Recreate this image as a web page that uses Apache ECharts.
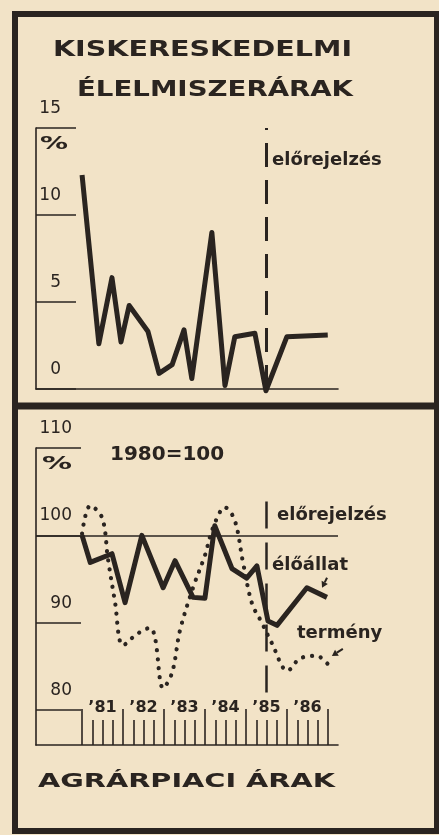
<!DOCTYPE html>
<html>
<head>
<meta charset="utf-8">
<script src="https://cdn.jsdelivr.net/npm/echarts@6/dist/echarts.min.js"></script>
<style>
  html, body { margin: 0; padding: 0; background: #f2e3c7; }
  #chart { width: 439px; height: 835px; }
</style>
</head>
<body>
<div id="chart"></div>
<script>
// kiskereskedelmi élelmiszerárak, % (x: év)
const retailYears = [1981.0, 1981.41, 1981.73, 1981.95, 1982.15, 1982.61, 1982.88, 1983.2, 1983.49,
  1983.68, 1984.17, 1984.49, 1984.73, 1985.22, 1985.49, 1986.0, 1987.0];
const retailValues = [12.3, 2.6, 6.4, 2.7, 4.8, 3.3, 0.9, 1.4, 3.4, 0.6, 9.0, 0.2, 3.0, 3.2, -0.1, 3.0, 3.1];

// agrárpiaci árak, 1980 = 100
const livestockYears = [1981.0, 1981.2, 1981.73, 1982.05, 1982.46, 1982.98, 1983.27, 1983.71, 1984.0,
  1984.24, 1984.66, 1985.02, 1985.27, 1985.54, 1985.76, 1986.49, 1986.98];
const livestockValues = [100, 96.9, 97.9, 92.3, 100, 94, 97.1, 92.9, 92.8, 101.1, 96.2, 95.1, 96.5, 90.2, 89.7, 94, 92.9];

const cropYears = [1981.0, 1981.2, 1981.49, 1981.63, 1981.8, 1982.0, 1982.34, 1982.66, 1982.78, 1982.98,
  1983.2, 1983.39, 1983.71, 1984.0, 1984.2, 1984.49, 1984.73, 1984.93, 1985.15, 1985.39, 1985.63,
  1986.02, 1986.32, 1986.73, 1987.03];
const cropValues = [100.2, 103.4, 102.0, 97.4, 92.5, 87.4, 88.7, 89.4, 88.3, 82.5, 84.3, 89.1, 94.0,
  97.7, 100.9, 103.2, 101.7, 96.9, 92.2, 90.0, 87.7, 84.5, 85.9, 86.2, 85.1];

const forecastStart = 1985.5;
const agrarTicks = [80, 90, 100, 110];
const yearLabels = ["’81", "’82", "’83", "’84", "’85", "’86"];
const yearLabelPos = [1981.5, 1982.5, 1983.5, 1984.5, 1985.5, 1986.5];

const ink = "#2a2420";
const paper = "#f2e3c7";

function zip(xs, ys) {
  return xs.map((x, i) => [x, ys[i]]);
}

// szélesre húzott címfelirat (a nyomtatott betű jóval szélesebb)
const measureCtx = document.createElement("canvas").getContext("2d");
function wideText(text, x, y, size, width) {
  const font = 'bold ' + size + 'px "DejaVu Sans"';
  measureCtx.font = font;
  const w = measureCtx.measureText(text).width;
  return {
    type: "text", x: x, y: y, scaleX: width / w,
    style: { text: text, font: font, fill: ink, verticalAlign: "middle" },
  };
}
function note(text, x, y, size) {
  return {
    type: "text", x: x, y: y,
    style: { text: text, font: 'bold ' + size + 'px "DejaVu Sans"', fill: ink, verticalAlign: "middle" },
  };
}
// kis nyíl a felirattól a görbe vége felé (dx, dy: a nyíl farka a hegyhez képest)
function arrow(id, head, dx, dy) {
  const len = Math.sqrt(dx * dx + dy * dy);
  const ux = -dx / len, uy = -dy / len; // irány a hegy felé
  const px = -uy, py = ux;
  const s = 6;
  const base = [head[0] - ux * s, head[1] - uy * s];
  return [
    {
      id: id + "-shaft", type: "line",
      shape: { x1: head[0] + dx, y1: head[1] + dy, x2: base[0], y2: base[1] },
      style: { stroke: ink, lineWidth: 2 },
    },
    {
      id: id + "-head", type: "polygon",
      shape: { points: [head, [base[0] + px * 3.5, base[1] + py * 3.5], [base[0] - px * 3.5, base[1] - py * 3.5]] },
      style: { fill: ink },
    },
  ];
}

const myChart = echarts.init(document.getElementById("chart"));

const hiddenX = {
  type: "value",
  min: 1979.875,
  max: 1987.25,
  axisLine: { show: true, lineStyle: { color: ink, width: 1.6 } },
  axisTick: { show: false },
  axisLabel: { show: false },
  splitLine: { show: false },
};

let option = {
  backgroundColor: paper,
  animation: false,
  grid: [
    { left: 36, right: 101, top: 128, bottom: 446 }, // felső ábra
    { left: 36, right: 101, top: 448, bottom: 90 },  // alsó ábra
    { left: 82, right: 111, top: 709, bottom: 90 },  // évek sávja
  ],
  xAxis: [
    Object.assign({ gridIndex: 0 }, hiddenX),
    Object.assign({ gridIndex: 1 }, hiddenX),
    {
      gridIndex: 2,
      type: "value",
      min: 1981,
      max: 1987,
      interval: 1,
      axisLine: { show: false },
      axisTick: { show: true, inside: true, length: 36, lineStyle: { color: ink, width: 1.6 } },
      minorTick: { show: true, splitNumber: 4, length: 25, lineStyle: { color: ink, width: 1.6 } },
      axisLabel: {
        inside: true,
        margin: 29,
        customValues: yearLabelPos,
        formatter: (v) => yearLabels[yearLabelPos.indexOf(v)],
        color: ink,
        fontFamily: "DejaVu Sans",
        fontWeight: "bold",
        fontSize: 16,
      },
      splitLine: { show: false },
    },
  ],
  yAxis: [
    {
      gridIndex: 0,
      type: "value",
      min: 0,
      max: 15,
      interval: 5,
      axisLine: { show: true, lineStyle: { color: ink, width: 1.6 } },
      axisTick: { show: true, inside: true, length: 40, lineStyle: { color: ink, width: 1.6 } },
      axisLabel: {
        inside: true, margin: 25, align: "right", verticalAlign: "bottom", padding: [0, 0, 11, 0],
        color: ink, fontFamily: "DejaVu Sans", fontSize: 17,
      },
      splitLine: { show: false },
    },
    {
      gridIndex: 1,
      type: "value",
      min: 76,
      max: 110,
      axisLine: { show: true, lineStyle: { color: ink, width: 1.6 } },
      axisTick: {
        show: true, inside: true, length: 45, customValues: agrarTicks,
        lineStyle: { color: ink, width: 1.6 },
      },
      axisLabel: {
        inside: true, margin: 36, align: "right", verticalAlign: "bottom", padding: [0, 0, 11, 0],
        customValues: agrarTicks,
        color: ink, fontFamily: "DejaVu Sans", fontSize: 17,
      },
      splitLine: { show: false },
    },
    { gridIndex: 2, type: "value", show: false },
  ],
  series: [
    {
      name: "kiskereskedelmi élelmiszerárak",
      type: "line",
      xAxisIndex: 0,
      yAxisIndex: 0,
      clip: false,
      showSymbol: false,
      data: zip(retailYears, retailValues),
      lineStyle: { color: ink, width: 5, join: "round" },
      markLine: {
        silent: true,
        symbol: "none",
        label: { show: false },
        lineStyle: { color: ink, width: 3, type: [24, 13] },
        data: [{ xAxis: forecastStart }],
      },
    },
    {
      name: "élőállat",
      type: "line",
      xAxisIndex: 1,
      yAxisIndex: 1,
      clip: false,
      showSymbol: false,
      data: zip(livestockYears, livestockValues),
      lineStyle: { color: ink, width: 5, join: "round" },
      markLine: {
        silent: true,
        symbol: "none",
        label: { show: false },
        data: [
          { yAxis: 100, lineStyle: { color: ink, width: 1.6, type: "solid" } },
          [
            { coord: [forecastStart, 82], lineStyle: { color: ink, width: 2.5, type: [27, 14] } },
            { coord: [forecastStart, 104] },
          ],
        ],
      },
    },
    {
      name: "termény",
      type: "line",
      xAxisIndex: 1,
      yAxisIndex: 1,
      clip: false,
      smooth: 0.35,
      showSymbol: false,
      data: zip(cropYears, cropValues),
      lineStyle: { color: ink, width: 4.2, type: [0.1, 8.9], cap: "round" },
    },
  ],
  graphic: [
    // keret és elválasztó
    {
      id: "frame", type: "rect",
      shape: { x: 15, y: 14, width: 422, height: 817 },
      style: { fill: "none", stroke: ink, lineWidth: 6 },
    },
    {
      id: "divider", type: "line",
      shape: { x1: 15, y1: 406, x2: 437, y2: 406 },
      style: { stroke: ink, lineWidth: 7 },
    },
    Object.assign({ id: "t1" }, wideText("KISKERESKEDELMI", 53, 51, 21, 299)),
    Object.assign({ id: "t2" }, wideText("ÉLELMISZERÁRAK", 77, 91, 21, 276)),
    Object.assign({ id: "p1" }, wideText("%", 40, 145, 17, 28)),
    Object.assign({ id: "n1" }, note("előrejelzés", 272, 160, 18)),
    Object.assign({ id: "n2" }, note("1980=100", 110, 455, 20)),
    Object.assign({ id: "p2" }, wideText("%", 42, 465, 17, 30)),
    Object.assign({ id: "n3" }, note("előrejelzés", 277, 515, 18)),
    Object.assign({ id: "n4" }, note("élőállat", 272, 565, 18)),
    Object.assign({ id: "n5" }, note("termény", 297, 633, 18)),
    Object.assign({ id: "t3" }, wideText("AGRÁRPIACI ÁRAK", 38, 782, 20, 297)),
  ],
};

option && myChart.setOption(option);

// nyilak a két görbe végéhez, a tengelyek skálájával elhelyezve
const livestockHead = myChart.convertToPixel({ xAxisIndex: 1, yAxisIndex: 1 }, [1986.86, 94.0]);
const cropHead = myChart.convertToPixel({ xAxisIndex: 1, yAxisIndex: 1 }, [1987.1, 86.2]);
myChart.setOption({
  graphic: [].concat(arrow("a1", livestockHead, 5, -10), arrow("a2", cropHead, 11, -7)),
});
</script>
</body>
</html>
